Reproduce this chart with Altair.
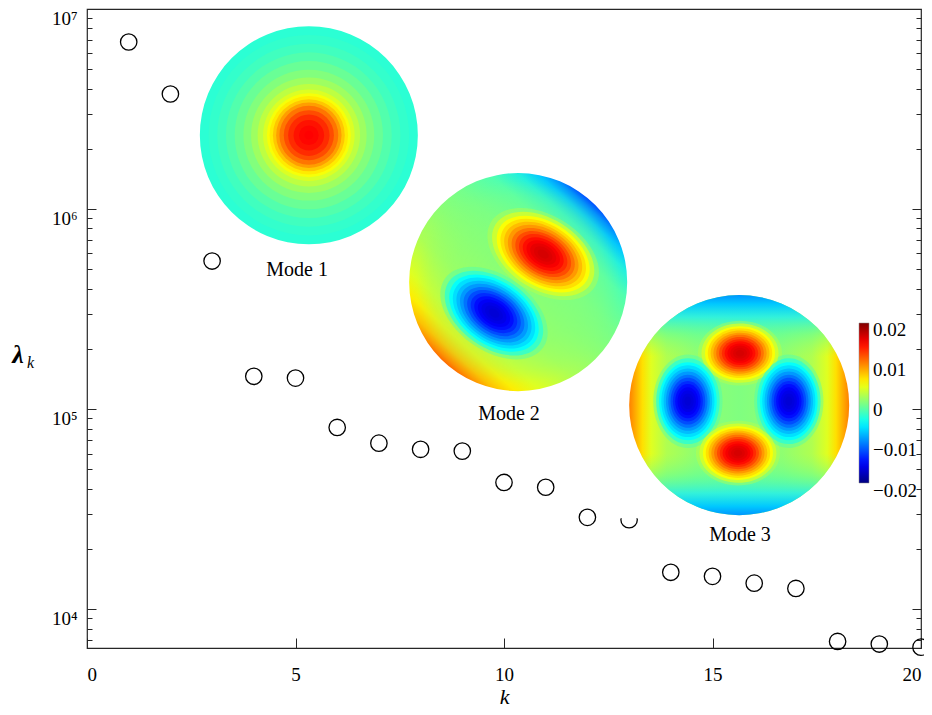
import altair as alt
import pandas as pd

# ---------------- data ----------------
k_vals = [1, 2, 3, 4, 5, 6, 7, 8, 9, 10, 11, 12, 13, 14, 15, 16, 17, 18, 19, 20]
lam_vals = [6.84e6, 3.76e6, 5.5e5, 1.46e5, 1.43e5, 8.1e4, 6.76e4, 6.3e4, 6.17e4, 4.3e4,
            4.07e4, 2.88e4, 2.8e4, 1.53e4, 1.46e4, 1.35e4, 1.27e4, 6.9e3, 6.7e3, 6.46e3]

x_ticks = [0, 5, 10, 15, 20]
y_major = [1e4, 1e5, 1e6, 1e7]
y_all_ticks = [7000, 8000, 9000, 1e4, 2e4, 3e4, 4e4, 5e4, 6e4, 7e4, 8e4, 9e4,
               1e5, 2e5, 3e5, 4e5, 5e5, 6e5, 7e5, 8e5, 9e5,
               1e6, 2e6, 3e6, 4e6, 5e6, 6e6, 7e6, 8e6, 9e6, 1e7]

mode_names = ["Mode 1", "Mode 2", "Mode 3"]
mode_label_k = [5.04, 10.12, 15.66]
mode_label_lam = [4.95e5, 9.44e4, 2.34e4]
disc_k = [5.32, 10.34, 15.64]
disc_lam = [2.34e6, 4.315e5, 1.047e5]
disc_d = [218, 218, 220]

# Mode 1: concentric rings (radius fraction, field value)
ring_r = [1.0, 0.92, 0.84, 0.76, 0.68, 0.6, 0.53, 0.47, 0.42, 0.385, 0.36, 0.33, 0.3,
          0.27, 0.23, 0.19, 0.14, 0.09, 0.04]
ring_v = [-0.0033, -0.003, -0.0025, -0.0018, -0.0009, 0.0001, 0.0012, 0.0024, 0.0036,
          0.0047, 0.0058, 0.0072, 0.0088, 0.0104, 0.012, 0.0133, 0.0143, 0.0148, 0.015]

# Modes 2 and 3: elliptical lobes
blob_k = [10.94, 9.76, 15.66, 15.61, 14.41, 16.83]
blob_lam = [5.96e5, 3.02e5, 1.905e5, 6.03e4, 1.096e5, 1.096e5]
blob_sign = [1, -1, 1, 1, -1, -1]
blob_semi = [51, 50, 35, 35, 39, 39]
blob_ratio = [0.63, 0.63, 0.77, 0.77, 0.74, 0.74]
blob_angle = [32, 35, 0, 0, 90, 90]
level_s = [1.2, 1.1, 1.0, 0.92, 0.84, 0.76, 0.68, 0.6, 0.52, 0.44, 0.36, 0.28, 0.2, 0.12]
level_v = [0.003, 0.004, 0.005, 0.0062, 0.0076, 0.009, 0.0105, 0.012, 0.0133, 0.0145,
           0.0153, 0.0159, 0.0163, 0.0166]
level_op = [0.35, 0.65, 0.9, 1, 1, 1, 1, 1, 1, 1, 1, 1, 1, 1]

# colour bar: label values (placed slightly below their level, as in the figure)
cbar_label_pos = [0.01825, 0.00825, -0.00175, -0.01175, -0.0246]
jet_domain = [-0.02, -0.015, -0.005, 0.005, 0.015, 0.02]
jet_range = ["#000080", "#0000ff", "#00ffff", "#ffff00", "#ff0000", "#800000"]

# white picture background of the Mode 3 inset
inset_k = [12.78, 18.44]
inset_lam = [2.85e4, 4.07e5]

# ---------------- tables ----------------
pts = pd.DataFrame({"k": k_vals, "lam": lam_vals})

rows = []
for r, v in zip(ring_r, ring_v):
    rows.append({"k": disc_k[0], "lam": disc_lam[0], "v": v, "size": (disc_d[0] * r) ** 2,
                 "shape": "circle", "angle": 0, "op": 1.0})
for li, (s, v, op) in enumerate(zip(level_s, level_v, level_op)):
    for bk, bl, sg, semi, ratio, ang in zip(blob_k, blob_lam, blob_sign, blob_semi,
                                            blob_ratio, blob_angle):
        path = f"M -1 0 A 1 {ratio} 0 1 1 1 0 A 1 {ratio} 0 1 1 -1 0 Z"
        rows.append({"k": bk, "lam": bl, "v": sg * v, "size": (2 * semi * s) ** 2,
                     "shape": path, "angle": ang, "op": op})
field = pd.DataFrame(rows)

labels = pd.DataFrame({"t": mode_names, "lk": mode_label_k, "ll": mode_label_lam})

FONT = "Liberation Serif"
AX = "#262626"
X = alt.Scale(domain=[0, 20], nice=False, zero=False)
Y = alt.Scale(type="log", domain=[6400, 1e7], nice=False)

major_test = "abs(log(datum.value)/LN10 - round(log(datum.value)/LN10)) < 0.01"
tick_size = {"condition": {"test": major_test, "value": 9}, "value": 5}

# ---------------- layers ----------------
scatter = alt.Chart(pts).mark_point(
    shape="circle", filled=False, size=270, strokeWidth=1.3, color="black", opacity=1
).encode(
    x=alt.X("k:Q", scale=X, axis=alt.Axis(
        orient="bottom", values=x_ticks, format="d", ticks=False, domain=False,
        labelPadding=17, labelFont=FONT, labelFontSize=19, labelColor="black",
        title="k", titleFont=FONT, titleFontStyle="italic", titleFontWeight="normal",
        titleFontSize=22, titleColor="black", titlePadding=2)),
    y=alt.Y("lam:Q", scale=Y, axis=alt.Axis(
        orient="left", values=y_major, ticks=False, domain=False,
        labelExpr="'10' + ['⁰','¹','²','³','⁴','⁵','⁶','⁷'][round(log(datum.value)/LN10)]",
        labelPadding=10, labelOffset=9, labelFont=FONT, labelFontSize=19,
        labelColor="black", title=None)),
)

inset_bg = alt.Chart(pd.DataFrame({"k1": [inset_k[0]], "k2": [inset_k[1]],
                                   "l1": [inset_lam[0]], "l2": [inset_lam[1]]})).mark_rect(
    color="white", opacity=1
).encode(
    x=alt.X("k1:Q", scale=X, axis=alt.Axis(
        orient="top", offset=-639, values=x_ticks, labels=False, domain=False,
        tickSize=10, tickColor=AX, tickWidth=1, title=None)),
    x2="k2:Q",
    y=alt.Y("l1:Q", scale=Y, axis=alt.Axis(
        orient="right", offset=-834, values=y_all_ticks, labels=False, domain=False,
        tickSize=tick_size, tickColor=AX, tickWidth=1, title=None)),
    y2="l2:Q",
)

grad2 = {"gradient": "linear", "x1": 0.835, "y1": 0.13, "x2": 0.165, "y2": 0.87,
         "stops": [{"offset": 0.0, "color": "#0050ff"}, {"offset": 0.03, "color": "#0090ff"},
                   {"offset": 0.07, "color": "#00c8ff"}, {"offset": 0.13, "color": "#20f0e0"},
                   {"offset": 0.22, "color": "#50ffb0"}, {"offset": 0.36, "color": "#74ff8c"},
                   {"offset": 0.5, "color": "#8cff73"}, {"offset": 0.65, "color": "#acff54"},
                   {"offset": 0.8, "color": "#e0ff20"}, {"offset": 0.88, "color": "#ffee00"},
                   {"offset": 0.94, "color": "#ffc000"}, {"offset": 0.98, "color": "#ff8c00"},
                   {"offset": 1.0, "color": "#ff6a00"}]}
grad2r = {"gradient": "radial", "x1": 0.5, "y1": 0.5, "r1": 0, "x2": 0.5, "y2": 0.5, "r2": 0.5,
          "stops": [{"offset": 0.0, "color": "rgba(135,255,120,0.6)"},
                    {"offset": 0.6, "color": "rgba(135,255,120,0.55)"},
                    {"offset": 0.8, "color": "rgba(135,255,120,0.3)"},
                    {"offset": 0.93, "color": "rgba(135,255,120,0.05)"},
                    {"offset": 1.0, "color": "rgba(135,255,120,0)"}]}
grad3h = {"gradient": "linear", "x1": 0, "y1": 0.5, "x2": 1, "y2": 0.5,
          "stops": [{"offset": 0.0, "color": "#ff8000"}, {"offset": 0.025, "color": "#ffa800"},
                    {"offset": 0.06, "color": "#ffe000"}, {"offset": 0.1, "color": "#e0ff20"},
                    {"offset": 0.17, "color": "#b0ff50"}, {"offset": 0.3, "color": "#90ff70"},
                    {"offset": 0.5, "color": "#80ff80"}, {"offset": 0.7, "color": "#90ff70"},
                    {"offset": 0.83, "color": "#b0ff50"}, {"offset": 0.9, "color": "#e0ff20"},
                    {"offset": 0.94, "color": "#ffe000"}, {"offset": 0.975, "color": "#ffa800"},
                    {"offset": 1.0, "color": "#ff8000"}]}
grad3v = {"gradient": "linear", "x1": 0.5, "y1": 0, "x2": 0.5, "y2": 1,
          "stops": [{"offset": 0.0, "color": "rgba(0,150,255,1)"},
                    {"offset": 0.04, "color": "rgba(0,200,255,1)"},
                    {"offset": 0.1, "color": "rgba(40,240,230,0.9)"},
                    {"offset": 0.18, "color": "rgba(80,255,170,0.5)"},
                    {"offset": 0.28, "color": "rgba(128,255,128,0)"},
                    {"offset": 0.72, "color": "rgba(128,255,128,0)"},
                    {"offset": 0.82, "color": "rgba(80,255,170,0.5)"},
                    {"offset": 0.9, "color": "rgba(40,240,230,0.9)"},
                    {"offset": 0.96, "color": "rgba(0,200,255,1)"},
                    {"offset": 1.0, "color": "rgba(0,150,255,1)"}]}


def disc(i, grad):
    return alt.Chart(pd.DataFrame({"k": [disc_k[i]], "lam": [disc_lam[i]]})).mark_point(
        shape="circle", filled=True, size=disc_d[i] ** 2, fill=grad, opacity=1, strokeWidth=0
    ).encode(x=alt.X("k:Q", scale=X, axis=None), y=alt.Y("lam:Q", scale=Y, axis=None))


bg2 = disc(1, grad2)
bg2r = disc(1, grad2r)
bg3 = disc(2, grad3h)
bg3v = disc(2, grad3v)

modes = alt.Chart(field).mark_point(filled=True, strokeWidth=0).encode(
    x=alt.X("k:Q", scale=X, axis=None),
    y=alt.Y("lam:Q", scale=Y, axis=None),
    color=alt.Color("v:Q", scale=alt.Scale(domain=jet_domain, range=jet_range,
                                           interpolate="rgb"),
                    legend=alt.Legend(
                        orient="none", legendX=772, legendY=314, direction="vertical",
                        gradientLength=160, gradientThickness=10, values=cbar_label_pos,
                        gradientOpacity=1,
                        gradientStrokeColor="#888", gradientStrokeWidth=0.5,
                        labelExpr="abs(round(datum.value*100)) < 0.5 ? '0' : replace(format(round(datum.value*100)/100, '.2f'), '-', '\u2212')",
                        labelFont=FONT, labelFontSize=19, labelColor="black", labelOffset=4,
                        labelOverlap=False, title=None)),
    size=alt.Size("size:Q", scale=None),
    shape=alt.Shape("shape:N", scale=None),
    angle=alt.Angle("angle:Q", scale=None),
    opacity=alt.Opacity("op:Q", scale=None, legend=None),
)

mode_text = alt.Chart(labels).mark_text(font=FONT, fontSize=20, color="black").encode(
    x=alt.X("lk:Q", scale=X, axis=None),
    y=alt.Y("ll:Q", scale=Y, axis=alt.Axis(
        orient="left", offset=-834, values=y_all_ticks, labels=False, domain=False,
        tickSize=tick_size, tickColor=AX, tickWidth=1, title=None)),
    text="t:N",
)

lam_sym = alt.Chart(pd.DataFrame({"t": ["λ"]})).mark_text(
    font=FONT, fontSize=26, fontWeight="bold", fontStyle="italic", color="black",
    align="center", baseline="alphabetic"
).encode(x=alt.value(-69), y=alt.value(354), text="t:N")

lam_sub = alt.Chart(pd.DataFrame({"t": ["k"]})).mark_text(
    font=FONT, fontSize=16, fontStyle="italic", color="black",
    align="left", baseline="alphabetic"
).encode(x=alt.value(-60), y=alt.value(359), text="t:N")

chart = alt.layer(
    scatter, inset_bg, bg2, bg2r, bg3, bg3v, modes, mode_text, lam_sym, lam_sub
).resolve_axis(x="independent", y="independent").properties(
    width=834, height=639,
    autosize=alt.AutoSizeParams(type="none"),
    padding={"left": 79, "top": 1, "right": 3, "bottom": 59},
).configure_view(stroke=AX, strokeWidth=1.2).configure_axis(grid=False)

chart.save("out.html", embed_options={"renderer": "svg", "actions": False})
